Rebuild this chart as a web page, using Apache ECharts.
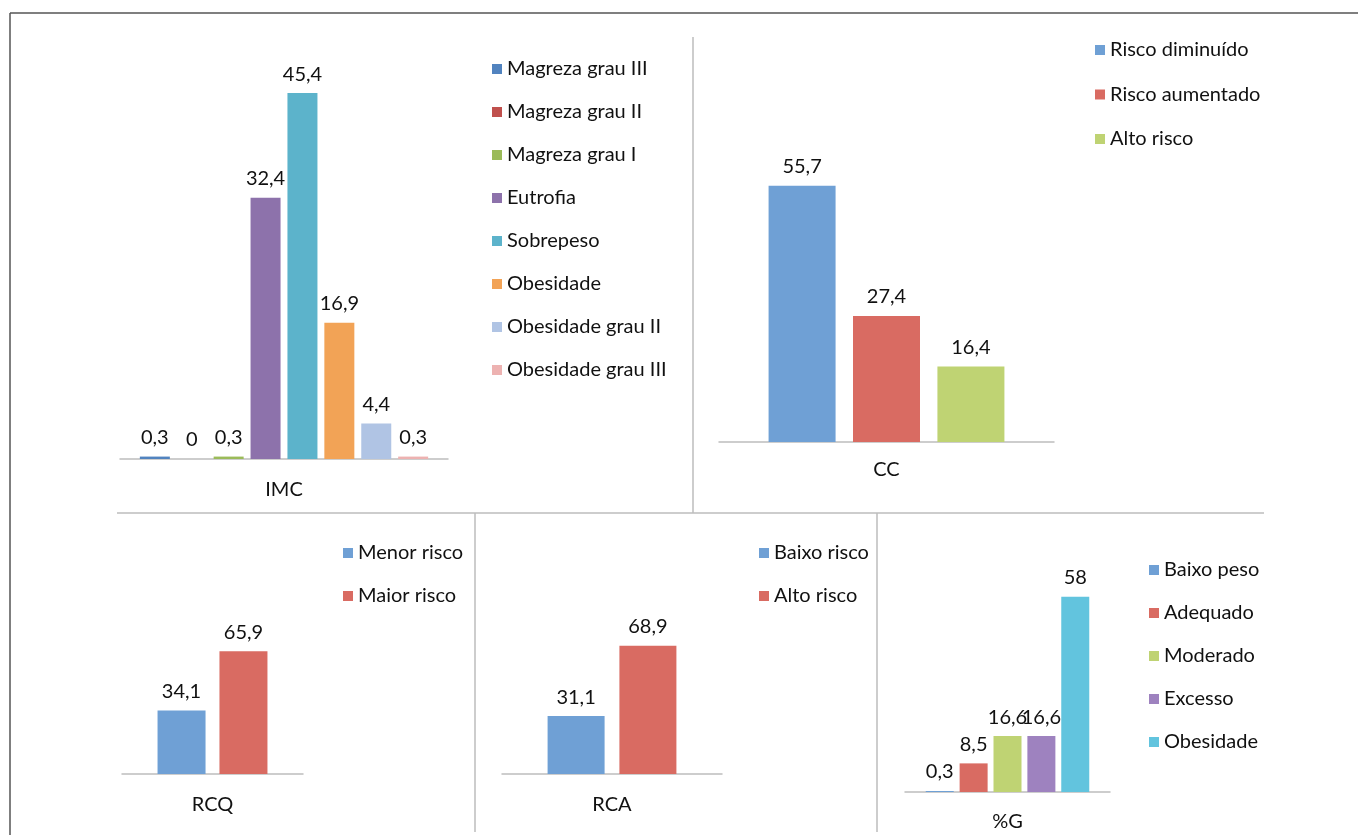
<!DOCTYPE html>
<html>
<head>
<meta charset="utf-8">
<script src="https://cdn.jsdelivr.net/npm/echarts@6/dist/echarts.min.js"></script>
<style>
html,body{margin:0;padding:0;background:#fff;}
#c{width:1358px;height:835px;}
</style>
</head>
<body>
<div id="c"></div>
<script>
// ---- data ----
const imcCategory = 'IMC';
const imcNames = ['Magreza grau III','Magreza grau II','Magreza grau I','Eutrofia','Sobrepeso','Obesidade','Obesidade grau II','Obesidade grau III'];
const imcValues = [0.3, 0, 0.3, 32.4, 45.4, 16.9, 4.4, 0.3];

const ccCategory = 'CC';
const ccNames = ['Risco diminuído','Risco aumentado','Alto risco'];
const ccValues = [55.7, 27.4, 16.4];

const rcqCategory = 'RCQ';
const rcqNames = ['Menor risco','Maior risco'];
const rcqValues = [34.1, 65.9];

const rcaCategory = 'RCA';
const rcaNames = ['Baixo risco','Alto risco'];
const rcaValues = [31.1, 68.9];

const gCategory = '%G';
const gNames = ['Baixo peso','Adequado','Moderado','Excesso','Obesidade'];
const gValues = [0.3, 8.5, 16.6, 16.6, 58];

// ---- palettes ----
const imcColors = ['#5183BF','#C0504D','#9BBB59','#8D72AB','#5CB3CB','#F2A356','#B0C4E4','#EDB2B1'];
const ccColors = ['#6FA0D5','#D96B62','#BFD373'];
const rcqColors = ['#6FA0D5','#D96B62'];
const rcaColors = ['#6FA0D5','#D96B62'];
const gColors = ['#6FA0D5','#D96B62','#BFD373','#9E82BF','#62C4DE'];

// ---- layout ----
const FONT = 'Lato';
const FS = 20;
const panels = [
  {cat: imcCategory, names: imcNames, values: imcValues, colors: imcColors,
   grid: {left: 120, width: 328, top: 56, height: 403}, max: 50, barWidth: 30, barGap: '23%',
   legend: {left: 492, top: 58, gap: 21}, margin: 21},
  {cat: ccCategory, names: ccNames, values: ccValues, colors: ccColors,
   grid: {left: 719, width: 335, top: 166, height: 276}, max: 60, barWidth: 67, barGap: '26%',
   legend: {left: 1095, top: 39, gap: 22.5}, margin: 18},
  {cat: rcqCategory, names: rcqNames, values: rcqValues, colors: rcqColors,
   grid: {left: 122, width: 181, top: 625, height: 149}, max: 80, barWidth: 48, barGap: '29%',
   legend: {left: 343, top: 542, gap: 21}, margin: 21},
  {cat: rcaCategory, names: rcaNames, values: rcaValues, colors: rcaColors,
   grid: {left: 502, width: 220, top: 625, height: 149}, max: 80, barWidth: 57, barGap: '26%',
   legend: {left: 759, top: 542, gap: 21}, margin: 21},
  {cat: gCategory, names: gNames, values: gValues, colors: gColors,
   grid: {left: 905, width: 205, top: 590, height: 202}, max: 60, barWidth: 28, barGap: '21%',
   legend: {left: 1149, top: 559, gap: 21}, margin: 20}
];

const fmt = v => String(v).replace('.', ',');

const grids = [], xAxes = [], yAxes = [], series = [], legends = [];
panels.forEach((p, i) => {
  grids.push(Object.assign({containLabel: false}, p.grid));
  xAxes.push({
    type: 'category', gridIndex: i, data: [p.cat],
    axisLine: {show: true, lineStyle: {color: '#BDBDBD', width: 1.5}},
    axisTick: {show: false},
    axisLabel: {fontFamily: FONT, fontSize: FS, color: '#111', margin: p.margin}
  });
  yAxes.push({type: 'value', gridIndex: i, min: 0, max: p.max, show: false, splitLine: {show: false}});
  const ids = [];
  p.names.forEach((n, k) => {
    const id = i + '|' + n;
    ids.push(id);
    series.push({
      type: 'bar', name: id, xAxisIndex: i, yAxisIndex: i,
      data: [p.values[k]], barWidth: p.barWidth, barGap: p.barGap,
      itemStyle: {color: p.colors[k]},
      label: {show: true, position: 'top', distance: 9, fontFamily: FONT, fontSize: FS, color: '#111',
              formatter: q => fmt(q.value)},
      animation: false
    });
  });
  legends.push({
    orient: 'vertical', left: p.legend.left, top: p.legend.top, padding: 0,
    itemGap: p.legend.gap, itemWidth: 10, itemHeight: 10, icon: 'rect',
    data: ids, selectedMode: false,
    formatter: s => s.split('|')[1],
    textStyle: {fontFamily: FONT, fontSize: FS, color: '#111', lineHeight: 22}
  });
});

const sep = '#BDBDBD';
const line = (x1, y1, x2, y2, c, w) => ({type: 'line', silent: true,
  shape: {x1, y1, x2, y2}, style: {stroke: c, lineWidth: w}});

const option = {
  backgroundColor: '#fff',
  animation: false,
  grid: grids, xAxis: xAxes, yAxis: yAxes, series: series, legend: legends,
  graphic: [
    line(10, 13, 1358, 13, '#555', 1.5),
    line(10, 13, 10, 835, '#555', 1.5),
    line(693, 37, 693, 513, sep, 1.5),
    line(117, 513, 1264, 513, sep, 1.5),
    line(475, 513, 475, 832, sep, 1.5),
    line(877, 513, 877, 832, sep, 1.5)
  ]
};
const chart = echarts.init(document.getElementById('c'), null, {renderer: 'canvas'});
chart.setOption(option);
</script>
</body>
</html>
